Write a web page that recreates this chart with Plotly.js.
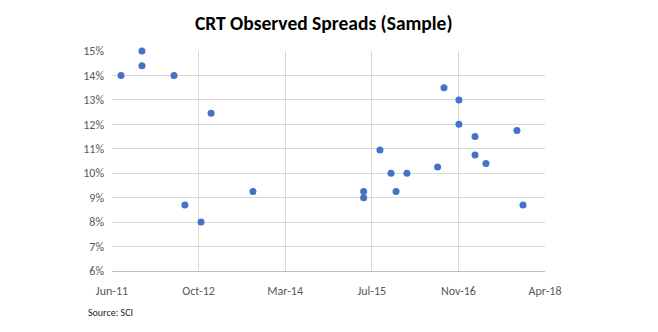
<!DOCTYPE html>
<html>
<head>
<meta charset="utf-8">
<script src="https://cdn.plot.ly/plotly-3.0.1.min.js"></script>
<style>body{margin:0;padding:0;background:#fff;} #chart{width:658px;height:332px;}</style>
</head>
<body>
<div id="chart"></div>
<script>
var dates = ["2011-07-28","2011-11-26","2011-11-26","2012-05-29","2012-07-31","2012-11-01","2012-12-29","2013-08-28",
  "2015-05-29","2015-05-29","2015-08-31","2015-11-03","2015-12-02","2016-02-03","2016-07-29","2016-09-04",
  "2016-11-29","2016-11-29","2017-03-02","2017-03-02","2017-05-04","2017-10-30","2017-12-04"];
var spreads = [14.0,15.0,14.4,14.0,8.7,8.0,12.45,9.25,
  9.25,9.0,10.95,10.0,9.25,10.0,10.25,13.5,
  13.0,12.0,11.5,10.75,10.4,11.75,8.7];
var titleText = "CRT Observed Spreads (Sample)";
var sourceText = "Source: SCI";

var font = "Carlito, Calibri, Lato, 'Open Sans', sans-serif";
Plotly.newPlot('chart', [{
  type: 'scatter', mode: 'markers', x: dates, y: spreads, cliponaxis: false,
  marker: {color: '#4472C4', size: 7}, hoverinfo: 'x+y'
}], {
  width: 658, height: 332,
  margin: {l: 112, r: 113, t: 51, b: 61},
  paper_bgcolor: '#fff', plot_bgcolor: '#fff',
  font: {family: font, color: '#595959', size: 12},
  title: {text: '<b>' + titleText + '</b>', font: {family: font, size: 19.5, color: '#000'}, x: 0.492, xanchor: 'center', y: 0.93, yanchor: 'middle'},
  xaxis: {type: 'date', range: ['2011-06-06', '2018-04-10'], tick0: '2011-06-06', dtick: 500 * 86400000,
    tickformat: '%b-%y', showgrid: true, gridcolor: '#d9d9d9', showline: true, linecolor: '#bfbfbf', linewidth: 1,
    ticks: '', zeroline: false, tickfont: {size: 12, color: '#595959'}, ticklabelstandoff: 9},
  yaxis: {range: [6, 15], dtick: 1, ticksuffix: '%', showgrid: true, gridcolor: '#d9d9d9', zeroline: false,
    showline: false, ticks: '', tickfont: {size: 12, color: '#595959'}, ticklabelstandoff: 7},
  annotations: [{text: sourceText, xref: 'paper', yref: 'paper', x: -0.061, y: -0.19, xanchor: 'left', yanchor: 'middle',
    showarrow: false, font: {family: font, size: 10, color: '#222'}}],
  showlegend: false
}, {displayModeBar: false, staticPlot: true});
</script>
</body>
</html>
